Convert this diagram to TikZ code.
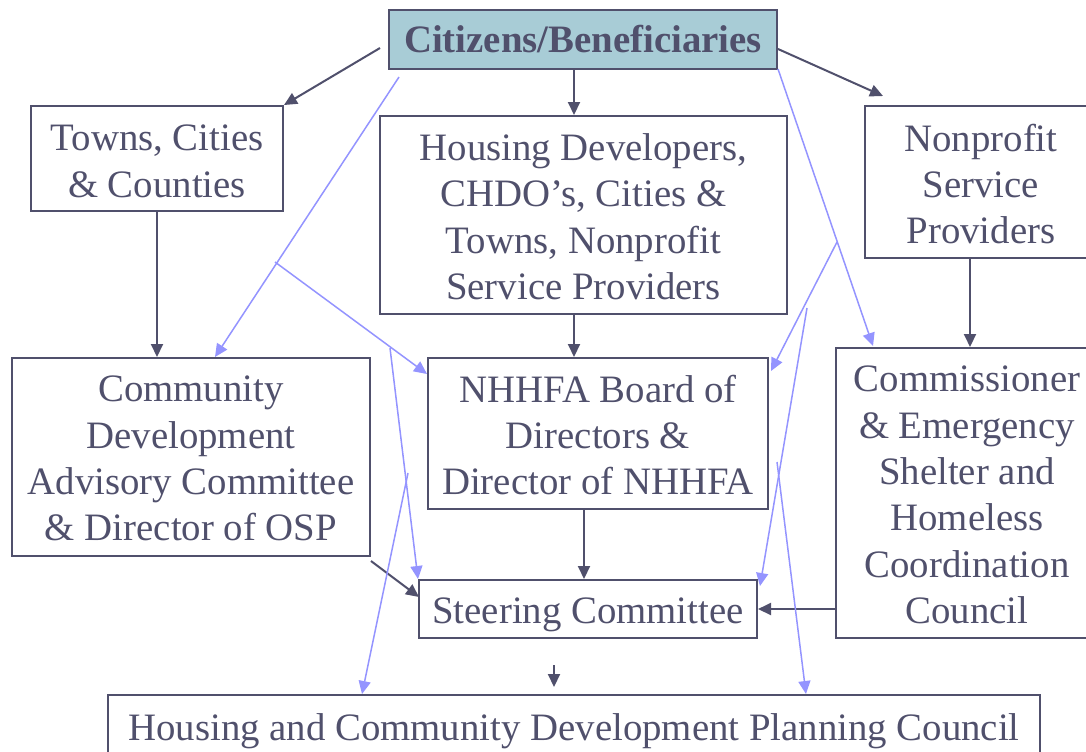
\documentclass[tikz,border=0pt]{standalone}
\usepackage{fontspec}
\setmainfont{Liberation Serif}
\usetikzlibrary{arrows.meta}
\definecolor{ink}{HTML}{50506C}
\definecolor{flow}{HTML}{9494FF}
\definecolor{sky}{HTML}{A8CCD6}

\begin{document}
\begin{tikzpicture}[x=0.5pt,y=-0.5pt,
  box/.style={draw=ink, line width=1pt, inner sep=0pt},
  tx/.style={text=ink, align=center, inner sep=0pt,
    font=\fontsize{19.4}{23.2}\selectfont},
  link/.style={draw=ink, line width=1pt, -{Triangle[length=6.5pt,width=6pt]}},
  feed/.style={draw=flow, line width=0.75pt, -{Triangle[length=6.5pt,width=6pt]}}]

\clip (0,0) rectangle (1086,751);

% boxes, each with its text set in the middle
\node[box, fill=sky, minimum width=194pt, minimum height=29.5pt,
      label={[tx, font=\bfseries\fontsize{19.4}{23.2}\selectfont]center:Citizens/Beneficiaries}]
      (citizens) at (583,39.5) {};
\node[box, minimum width=126pt, minimum height=52.5pt,
      label={[tx, yshift=-1.5pt]center:{Towns, Cities\\\& Counties}}]
      (towns) at (157,158.5) {};
\node[box, minimum width=203.5pt, minimum height=99pt,
      label={[tx, yshift=-0.8pt]center:{Housing Developers,\\CHDO’s, Cities \&\\Towns, Nonprofit\\Service Providers}}]
      (housing) at (583.5,215) {};
\node[box, minimum width=116pt, minimum height=76pt,
      label={[tx, yshift=-1pt]center:{Nonprofit\\Service\\Providers}}]
      (nonprofit) at (981,182) {};
\node[box, minimum width=179pt, minimum height=99pt,
      label={[tx, yshift=-0.8pt]center:{Community\\Development\\Advisory Committee\\\& Director of OSP}}]
      (community) at (191,457) {};
\node[box, minimum width=170pt, minimum height=75.5pt,
      label={[tx, yshift=-0.8pt]center:{NHHFA Board of\\Directors \&\\Director of NHHFA}}]
      (nhhfa) at (598,433.5) {};
\node[box, minimum width=131pt, minimum height=145pt,
      label={[tx, yshift=-1pt]center:{Commissioner\\\& Emergency\\Shelter and\\Homeless\\Coordination\\Council}}]
      (commissioner) at (967,493) {};
\node[box, minimum width=169pt, minimum height=29pt,
      label={[tx, yshift=-3pt]center:Steering Committee}]
      (steering) at (588,609) {};
\node[box, minimum width=466pt, minimum height=32pt,
      label={[tx, yshift=-2pt]center:Housing and Community Development Planning Council}]
      (planning) at (574,727) {};

% guide columns and free ends
\coordinate (colH) at (574,0);
\coordinate (colS) at (584,0);
\coordinate (colC) at (970,0);
\coordinate (tlStart) at (380,48);
\coordinate (trStart) at (778,49);
\coordinate (trEnd) at (883,96);
\coordinate (cdStart) at (371,561);
\coordinate (stLeft) at (419,597);
\coordinate (pcStart) at (554,665);
\coordinate (pcEnd) at (554,687);

% main reporting lines
\draw[link] (tlStart) -- (towns.north east);
\draw[link] (citizens.south -| colH) -- (housing.north -| colH);
\draw[link] (trStart) -- (trEnd);
\draw[link] (towns.south) -- (towns.south |- community.north);
\draw[link] (housing.south -| colH) -- (nhhfa.north -| colH);
\draw[link] (nonprofit.south -| colC) -- (commissioner.north -| colC);
\draw[link] (nhhfa.south -| colS) -- (steering.north -| colS);
\draw[link] (cdStart) -- (stLeft);
\draw[link] (commissioner.west |- steering.east) -- (steering.east);
\draw[link] (pcStart) -- (pcEnd);

% input flows
\coordinate (fa1) at (399,77);   \coordinate (fa2) at (215,357);
\coordinate (fb1) at (275,262);  \coordinate (fb2) at (427,374);
\coordinate (fc1) at (390,348);  \coordinate (fc2) at (418,579);
\coordinate (fd1) at (408,473);  \coordinate (fd2) at (362,694);
\coordinate (fe1) at (778,69);   \coordinate (fe2) at (873,346);
\coordinate (ff1) at (837,242);  \coordinate (ff2) at (771,371);
\coordinate (fg1) at (807,308);  \coordinate (fg2) at (760,586);
\coordinate (fh1) at (777,462);  \coordinate (fh2) at (806,694);

\draw[feed] (fa1) -- (fa2);
\draw[feed] (fb1) -- (fb2);
\draw[feed] (fc1) -- (fc2);
\draw[feed] (fd1) -- (fd2);
\draw[feed] (fe1) -- (fe2);
\draw[feed] (ff1) -- (ff2);
\draw[feed] (fg1) -- (fg2);
\draw[feed] (fh1) -- (fh2);
\end{tikzpicture}
\end{document}
